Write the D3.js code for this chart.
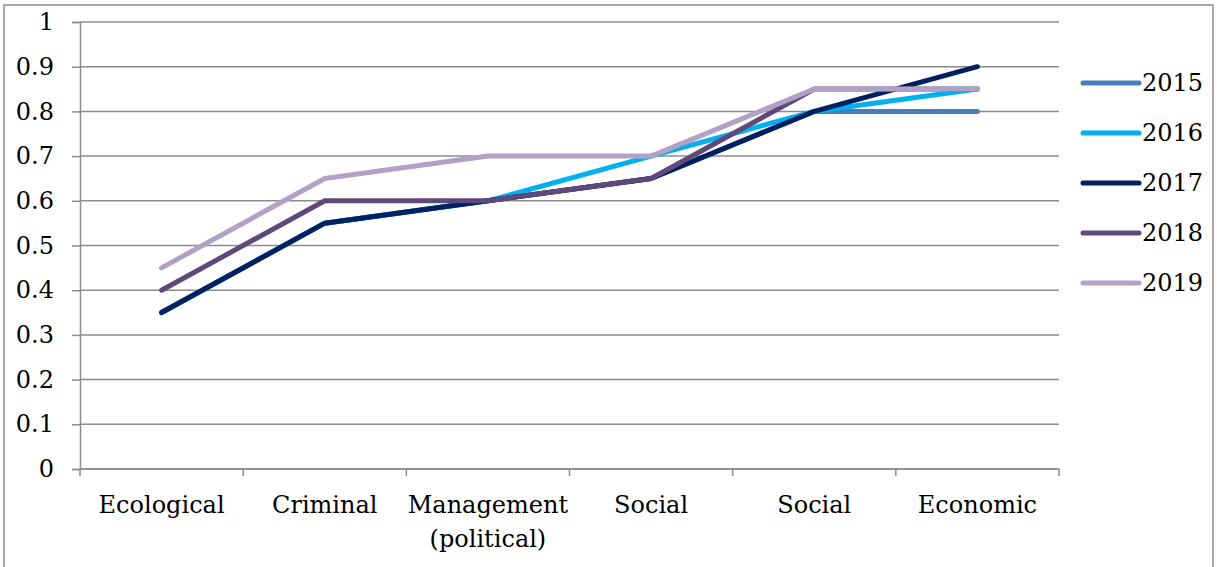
<!DOCTYPE html>
<html>
<head>
<meta charset="utf-8">
<script src="https://cdn.jsdelivr.net/npm/d3@7/dist/d3.min.js"></script>
<style>
  html, body { margin: 0; padding: 0; background: #fff; }
  svg text { font-family: "DejaVu Serif", serif !important; }
</style>
</head>
<body>
<svg id="chart" width="1217" height="567"></svg>
<script>
// Risk index by category and year
const categories = ["Ecological", "Criminal", "Management\n(political)", "Social", "Social ", "Economic"];
const years = ["2015", "2016", "2017", "2018", "2019"];
const values2015 = [0.35, 0.55, 0.6, 0.65, 0.8, 0.8];
const values2016 = [0.35, 0.55, 0.6, 0.7, 0.8, 0.85];
const values2017 = [0.35, 0.55, 0.6, 0.65, 0.8, 0.9];
const values2018 = [0.4, 0.6, 0.6, 0.65, 0.85, 0.85];
const values2019 = [0.45, 0.65, 0.7, 0.7, 0.85, 0.85];
const yTicks = [0, 0.1, 0.2, 0.3, 0.4, 0.5, 0.6, 0.7, 0.8, 0.9, 1];
const colors = ["#4a7ebb", "#00b0f0", "#002060", "#5f497a", "#b2a1c7"];

const seriesList = [values2015, values2016, values2017, values2018, values2019]
  .map((v, i) => ({ name: years[i], values: v, color: colors[i] }));

const svg = d3.select("#chart");
const grid = "#8c8c8c";
const fontSize = 24;

// outer frame
svg.append("rect")
  .attr("x", 4).attr("y", 5).attr("width", 1209).attr("height", 570)
  .attr("fill", "none").attr("stroke", "#8c8c8c").attr("stroke-width", 1.5);

const plotLeft = 80, plotRight = 1059, plotTop = 22, plotBottom = 469;

const x = d3.scaleBand().domain(categories).range([plotLeft, plotRight]).paddingInner(0).paddingOuter(0);
const y = d3.scaleLinear().domain([0, 1]).range([plotBottom, plotTop]);

// horizontal gridlines
svg.append("g").selectAll("line").data(yTicks).join("line")
  .attr("x1", plotLeft).attr("x2", plotRight)
  .attr("y1", d => y(d)).attr("y2", d => y(d))
  .attr("stroke", grid).attr("stroke-width", 1.5);

// y axis
const yAxis = svg.append("g").attr("transform", `translate(${plotLeft},0)`)
  .call(d3.axisLeft(y).tickValues(yTicks).tickSize(8).tickPadding(18).tickFormat(d => String(d)));
yAxis.select(".domain").attr("stroke", grid).attr("stroke-width", 1.5);
yAxis.selectAll(".tick line").attr("stroke", grid).attr("stroke-width", 1.5);
yAxis.selectAll(".tick text").attr("font-size", fontSize).attr("fill", "#000");

// x axis line and boundary ticks
svg.append("line").attr("x1", plotLeft).attr("x2", plotRight).attr("y1", plotBottom).attr("y2", plotBottom)
  .attr("stroke", grid).attr("stroke-width", 1.5);
const boundaries = categories.map(c => x(c)).concat([plotRight]);
svg.append("g").selectAll("line").data(boundaries).join("line")
  .attr("x1", d => d).attr("x2", d => d).attr("y1", plotBottom).attr("y2", plotBottom + 7)
  .attr("stroke", grid).attr("stroke-width", 1.5);

// category labels
const labels = svg.append("g").attr("font-size", fontSize).attr("fill", "#000").attr("text-anchor", "middle");
categories.forEach(c => {
  const t = labels.append("text").attr("x", x(c) + x.bandwidth() / 2).attr("y", 513);
  c.trim().split("\n").forEach((ln, i) => {
    t.append("tspan").attr("x", x(c) + x.bandwidth() / 2).attr("dy", i === 0 ? 0 : 34).text(ln);
  });
});

// series lines
const line = d3.line()
  .x((d, i) => x(categories[i]) + x.bandwidth() / 2)
  .y(d => y(d));
svg.append("g").selectAll("path").data(seriesList).join("path")
  .attr("d", s => line(s.values))
  .attr("fill", "none")
  .attr("stroke", s => s.color)
  .attr("stroke-width", 5)
  .attr("stroke-linecap", "round")
  .attr("stroke-linejoin", "round");

// legend
const legend = svg.append("g").selectAll("g").data(seriesList).join("g")
  .attr("transform", (s, i) => `translate(1083,${83 + i * 50})`);
legend.append("line").attr("x1", 0).attr("x2", 56).attr("y1", 0).attr("y2", 0)
  .attr("stroke", s => s.color).attr("stroke-width", 5).attr("stroke-linecap", "round");
legend.append("text").attr("x", 59).attr("y", 0).attr("dy", "0.35em")
  .attr("font-size", fontSize).attr("fill", "#000").text(s => s.name);
</script>
</body>
</html>
